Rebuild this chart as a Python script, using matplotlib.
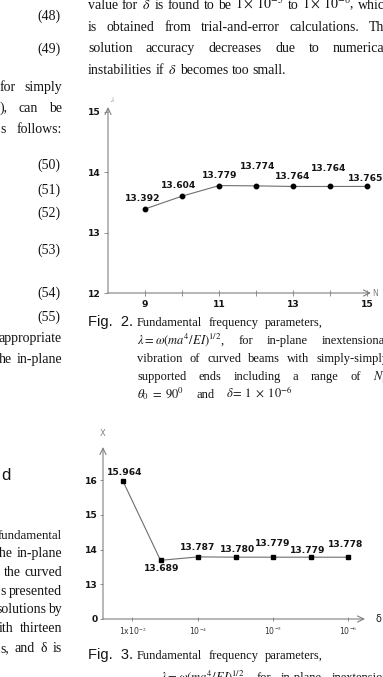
import matplotlib.pyplot as plt

plt.rcParams['mathtext.fontset'] = 'stix'

W, H = 383, 677

# Fig. 2 data: lambda versus number of terms N
n_terms = [9, 10, 11, 12, 13, 14, 15]
lam_n = [13.392, 13.604, 13.779, 13.774, 13.764, 13.764, 13.765]
n_ticks = [9, 10, 11, 12, 13, 14, 15]
n_ticklabels = ['9', '', '11', '', '13', '', '15']

# Fig. 3 data: lambda versus delta
delta_idx = [1, 2, 3, 4, 5, 6, 7]
lam_delta = [15.964, 13.689, 13.787, 13.780, 13.779, 13.779, 13.778]
delta_ticklabels = ['1x10$^{-2}$', '10$^{-4}$', '10$^{-5}$', '10$^{-6}$']
lam_ticks = [12, 13, 14, 15, 16]
lam_ticklabels = ['0', '13', '14', '15', '16']

GRAY = '#808080'
LINE = '#6e6e6e'
INK = '#141414'
SERIF = 'Liberation Serif'
SANS = 'Liberation Sans'
BODY = 10
CAP = 9

fig = plt.figure(figsize=(W / 100, H / 100), dpi=100)
fig.patch.set_facecolor('white')
renderer = fig.canvas.get_renderer()


def fx(x):
    return x / W


def fy(y):
    return 1 - y / H


def put(s, x, y, ha='left', size=BODY, family=SERIF, **kw):
    return fig.text(fx(x), fy(y + 4), s, ha=ha, va='baseline', fontsize=size,
                    family=family, color=INK, **kw)


def justify(words, x0, x1, y, size=BODY, family=SERIF):
    texts = [put(w, 0, y, size=size, family=family) for w in words]
    widths = [t.get_window_extent(renderer).width for t in texts]
    gap = (x1 - x0 - sum(widths)) / max(len(words) - 1, 1)
    x = x0
    for t, w in zip(texts, widths):
        t.set_x(fx(x))
        x += w + gap


def px_axes(x0, ytop, x1, ybot):
    return fig.add_axes([fx(x0), fy(ybot), (x1 - x0) / W, (ybot - ytop) / H])


def arrow_axes(ax):
    for s in ax.spines.values():
        s.set_visible(False)
    ap = dict(arrowstyle='->,head_length=0.45,head_width=0.22', color=GRAY,
              lw=0.8, shrinkA=0, shrinkB=0)
    ax.annotate('', xy=(1, 0), xytext=(0, 0), xycoords='axes fraction', arrowprops=ap)
    ax.annotate('', xy=(0, 1), xytext=(0, 0), xycoords='axes fraction', arrowprops=ap)
    ax.set_facecolor('none')


# ---------------- left column fragments ----------------
for lab, y in [('(48)', 16), ('(49)', 49), ('(50)', 165), ('(51)', 190),
               ('(52)', 213), ('(53)', 250), ('(54)', 293), ('(55)', 317)]:
    put(lab, 49, y, ha='center')

justify(['for', 'simply'], 0, 62, 87)
justify(['),', 'can', 'be'], 0, 62, 108)
justify(['s', 'follows:'], 0, 62, 129)
put('appropriate', 62, 338, ha='right')
justify(['he', 'in-plane'], -1, 62, 359)
put('d', 1, 476, size=12, family=SANS)
put('fundamental', 62, 535, ha='right', size=9.3)
justify(['the', 'in-plane'], -4, 62, 553)
justify(['the', 'curved'], 4, 62, 572)
justify(['s', 'presented'], 0, 62, 591)
justify(['solutions', 'by'], -4, 62, 609)
justify(['ith', 'thirteen'], -1, 62, 628)
justify(['s,', 'and', 'δ', 'is'], 0, 62, 648)

# ---------------- right column text ----------------
justify(['value', 'for', r'$\delta$', 'is', 'found', 'to', 'be', r'$1\times\,10^{-5}$',
         'to', r'$1\times\,10^{-6}$,', 'which'], 88, 392, 5)
justify(['is', 'obtained', 'from', 'trial-and-error', 'calculations.', 'The'], 88, 390, 27)
justify(['solution', 'accuracy', 'decreases', 'due', 'to', 'numerical'], 88, 388, 48)
justify(['instabilities', 'if', r'$\delta$', 'becomes', 'too', 'small.'], 88, 286, 70)

# Fig. 2 caption
put('Fig.  2.', 88, 322, size=10.5, family=SANS)
justify(['Fundamental', 'frequency', 'parameters,'], 137, 323, 322, size=CAP)
justify([r'$\lambda=\omega(ma^4/EI)^{1/2}$,', 'for', 'in-plane', 'inextensional'],
        137, 388, 340, size=CAP)
justify(['vibration', 'of', 'curved', 'beams', 'with', 'simply-simply'], 137, 389, 358, size=CAP)
justify(['supported', 'ends', 'including', 'a', 'range', 'of', r'$N$,'], 137, 386, 376, size=CAP)
justify([r'$\theta_0\;=\;90^0$', 'and', r'$\delta\!=\;1\;\times\;10^{-6}$'], 137, 293, 394, size=CAP)

# Fig. 3 caption
put('Fig.  3.', 88, 655, size=10.5, family=SANS)
justify(['Fundamental', 'frequency', 'parameters,'], 137, 323, 655, size=CAP)
justify([r'$\lambda=\omega(ma^4/EI)^{1/2}$,', 'for', 'in-plane', 'inextensional'],
        160, 398, 677, size=CAP)

# ---------------- Fig. 2 chart ----------------
ax1 = px_axes(108, 107, 371, 293)
arrow_axes(ax1)
ax1.set_xlim(8, 15.1)
ax1.set_ylim(12, 15.08)
ax1.plot(n_terms, lam_n, color=LINE, lw=0.8, marker='o', ms=3.2,
         mfc='black', mec='black', zorder=3)
off1 = [(-2, 10), (-4, 11), (1, 10), (1, 19), (-1, 10), (-2, 18), (-2, 8)]
for x, y, (dx, dy) in zip(n_terms, lam_n, off1):
    ax1.annotate(f'{y:.3f}', (x, y), xytext=(dx * 0.72, dy * 0.72), textcoords='offset points',
                 ha='center', va='center', fontsize=6.6, fontweight='bold', color=INK,
                 family='DejaVu Sans')
ax1.set_xticks(n_ticks)
ax1.set_xticklabels(n_ticklabels)
ax1.set_yticks([12, 13, 14, 15])
ax1.set_yticklabels(['12', '13', '14', '15'])
ax1.tick_params(axis='both', direction='out', length=3, width=0.6, color=GRAY,
                labelsize=6.6, labelcolor=INK, pad=2)
ax1.tick_params(axis='x', direction='inout', length=4, pad=3)
for lbl in ax1.get_xticklabels() + ax1.get_yticklabels():
    lbl.set_fontweight('bold')
    lbl.set_family('DejaVu Sans')
fig.text(fx(110), fy(100), r'$\lambda$', fontsize=5, color=GRAY, ha='left', va='center')
fig.text(fx(372), fy(293), 'N', fontsize=5.5, color=GRAY, ha='left', va='center',
         family='DejaVu Sans')

# ---------------- Fig. 3 chart ----------------
ax2 = px_axes(103, 447, 365, 619)
arrow_axes(ax2)
ax2.set_xlim(0.467, 7.45)
ax2.set_ylim(12, 16.95)
ax2.plot(delta_idx, lam_delta, color=LINE, lw=0.8, marker='s', ms=3,
         mfc='black', mec='black', zorder=3)
off2 = [(2, 9), (1, -8), (0, 9), (2, 8), (0, 14), (-3, 7), (-3, 13)]
for x, y, (dx, dy) in zip(delta_idx, lam_delta, off2):
    ax2.annotate(f'{y:.3f}', (x, y), xytext=(dx * 0.72, dy * 0.72), textcoords='offset points',
                 ha='center', va='center', fontsize=6.6, fontweight='bold', color=INK,
                 family='DejaVu Sans')
ax2.set_xticks([1.25, 3, 5, 7])
ax2.set_xticklabels(delta_ticklabels)
ax2.set_yticks(lam_ticks)
ax2.set_yticklabels(lam_ticklabels)
ax2.tick_params(axis='y', direction='out', length=2.5, width=0.6, color=GRAY,
                labelsize=6.6, labelcolor=INK, pad=1.5)
ax2.tick_params(axis='x', direction='inout', length=3, width=0.6, color=GRAY,
                labelsize=5.6, labelcolor='#333333', pad=3)
for lbl in ax2.get_yticklabels():
    lbl.set_fontweight('bold')
    lbl.set_family('DejaVu Sans')
fig.text(fx(103), fy(433), 'X', fontsize=6, color=GRAY, ha='center', va='center',
         family='DejaVu Sans')
fig.text(fx(376), fy(619), 'δ', fontsize=7, color=INK, ha='left', va='center',
         family='DejaVu Sans')

fig.savefig('out.png', dpi=100)
